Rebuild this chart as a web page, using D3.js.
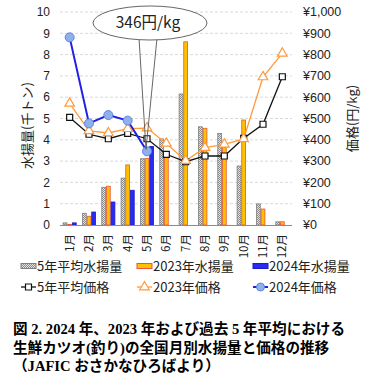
<!DOCTYPE html>
<html>
<head>
<meta charset="utf-8">
<script src="https://cdn.jsdelivr.net/npm/d3@7"></script>
<style>
  body { margin: 0; background: #fff; }
  svg { display: block; }
  text { font-family: "Liberation Sans", Arial, "Noto Sans CJK JP", sans-serif; }
  .jp { font-family: "Noto Sans CJK JP", sans-serif; }
  .caption { font-family: "Liberation Serif", "Noto Sans CJK JP", serif; font-weight: bold; }
</style>
</head>
<body>
<div id="chart"></div>
<script>
const months = ["1月", "2月", "3月", "4月", "5月", "6月", "7月", "8月", "9月", "10月", "11月", "12月"];

// 水揚量 (千トン)
const avgCatch = [0.1, 0.55, 1.77, 2.2, 3.11, 4.04, 6.15, 4.61, 4.3, 2.77, 0.99, 0.15];
const catch2023 = [0.03, 0.41, 1.82, 2.82, 3.13, 3.4, 8.6, 4.54, 3.65, 4.93, 0.75, 0.15];
const catch2024 = [0.1, 0.61, 1.08, 1.63, 3.69];

// 価格 (円/kg)
const avgPrice = [505, 426, 405, 430, 405, 332, 297, 324, 324, 407, 473, 696];
const price2023 = [571, 442, 432, 452, 455, 383, 302, 363, 379, 404, 695, 806];
const price2024 = [881, 477, 516, 490, 346];

const catchTicks = d3.range(0, 11);
const priceTicks = d3.range(0, 1001, 100);

const calloutText = "346円/kg";
const calloutMonth = 4;

const width = 375;
const height = 380;
const plotLeft = 60;
const plotRight = 292;
const plotTop = 12;
const plotBottom = 225;

const svg = d3
  .select("#chart")
  .append("svg")
  .attr("width", width)
  .attr("height", height);

// dotted pattern for 5-year average bars
const defs = svg.append("defs");
const pat = defs
  .append("pattern")
  .attr("id", "dots")
  .attr("width", 2)
  .attr("height", 2)
  .attr("patternUnits", "userSpaceOnUse");
pat.append("rect").attr("width", 2).attr("height", 2).attr("fill", "#e4e4e4");
pat.append("rect").attr("width", 1).attr("height", 1).attr("fill", "#8a8a8a");
pat.append("rect").attr("x", 1).attr("y", 1).attr("width", 1).attr("height", 1).attr("fill", "#8a8a8a");

const x = d3
  .scaleBand()
  .domain(months)
  .range([plotLeft, plotRight])
  .paddingInner(0.28)
  .paddingOuter(0.14);

const xSub = d3
  .scaleBand()
  .domain(["avg", "y2023", "y2024"])
  .range([0, x.bandwidth()]);

const y = d3.scaleLinear().domain([0, 10]).range([plotBottom, plotTop]);
const yPrice = d3.scaleLinear().domain([0, 1000]).range([plotBottom, plotTop]);

const cx = (i) => x(months[i]) + x.bandwidth() / 2;

// gridlines
svg
  .append("g")
  .selectAll("line")
  .data(catchTicks.filter((d) => d > 0))
  .join("line")
  .attr("x1", plotLeft)
  .attr("x2", plotRight)
  .attr("y1", (d) => y(d))
  .attr("y2", (d) => y(d))
  .attr("stroke", "#d9d9d9")
  .attr("stroke-dasharray", "3,2");

// left axis labels
svg
  .append("g")
  .selectAll("text")
  .data(catchTicks)
  .join("text")
  .attr("x", 50)
  .attr("y", (d) => y(d))
  .attr("dy", "0.35em")
  .attr("text-anchor", "end")
  .attr("font-size", 12)
  .attr("fill", "#222")
  .text((d) => d);

// right axis labels
svg
  .append("g")
  .selectAll("text")
  .data(priceTicks)
  .join("text")
  .attr("x", 303)
  .attr("y", (d) => yPrice(d))
  .attr("dy", "0.35em")
  .attr("font-size", 12.5)
  .attr("fill", "#222")
  .text((d) => "¥" + d3.format(",")(d));

// axis titles
svg
  .append("text")
  .attr("class", "jp")
  .attr("transform", `translate(27,${(plotTop + plotBottom) / 2 + 7}) rotate(-90)`)
  .attr("text-anchor", "middle")
  .attr("dy", "0.35em")
  .attr("font-size", 13)
  .attr("fill", "#222")
  .text("水揚量(千トン)");

svg
  .append("text")
  .attr("class", "jp")
  .attr("transform", `translate(352,${(plotTop + plotBottom) / 2}) rotate(-90)`)
  .attr("text-anchor", "middle")
  .attr("dy", "0.35em")
  .attr("font-size", 13)
  .attr("fill", "#222")
  .text("価格(円/kg)");

// bars
const barsG = svg.append("g");
const barSeries = [
  { key: "avg", values: avgCatch, fill: "url(#dots)", stroke: "#7f7f7f" },
  { key: "y2023", values: catch2023, fill: "#ffc000", stroke: "#e8553a" },
  { key: "y2024", values: catch2024, fill: "#2a2af2", stroke: "#1c1cc8" },
];
barSeries.forEach((s) => {
  barsG
    .append("g")
    .selectAll("rect")
    .data(s.values)
    .join("rect")
    .attr("x", (d, i) => x(months[i]) + xSub(s.key) + 0.4)
    .attr("width", xSub.bandwidth() - 0.8)
    .attr("y", (d) => y(d))
    .attr("height", (d) => y(0) - y(d))
    .attr("fill", s.fill)
    .attr("stroke", s.stroke)
    .attr("stroke-width", 0.8);
});

// x axis line
svg
  .append("line")
  .attr("x1", plotLeft)
  .attr("x2", plotRight)
  .attr("y1", plotBottom + 0.5)
  .attr("y2", plotBottom + 0.5)
  .attr("stroke", "#8c8c8c");

// month labels
svg
  .append("g")
  .selectAll("text")
  .data(months)
  .join("text")
  .attr("class", "jp")
  .attr("transform", (d) => `translate(${x(d) + x.bandwidth() / 2},234) rotate(-90)`)
  .attr("text-anchor", "end")
  .attr("dy", "0.35em")
  .attr("font-size", 11.5)
  .attr("fill", "#222")
  .text((d) => d);

// price lines
const line = d3
  .line()
  .x((d, i) => cx(i))
  .y((d) => yPrice(d));

svg
  .append("path")
  .attr("d", line(avgPrice))
  .attr("fill", "none")
  .attr("stroke", "#111")
  .attr("stroke-width", 1.3);

svg
  .append("path")
  .attr("d", line(price2023))
  .attr("fill", "none")
  .attr("stroke", "#ff9a3c")
  .attr("stroke-width", 1.3);

svg
  .append("path")
  .attr("d", line(price2024))
  .attr("fill", "none")
  .attr("stroke", "#1f1fe6")
  .attr("stroke-width", 2);

const square = d3.symbol().type(d3.symbolSquare).size(36);
const triangle = d3.symbol().type(d3.symbolTriangle).size(40);

svg
  .append("g")
  .selectAll("path")
  .data(avgPrice)
  .join("path")
  .attr("transform", (d, i) => `translate(${cx(i)},${yPrice(d)})`)
  .attr("d", square)
  .attr("fill", "#fff")
  .attr("stroke", "#111")
  .attr("stroke-width", 1.2);

svg
  .append("g")
  .selectAll("path")
  .data(price2023)
  .join("path")
  .attr("transform", (d, i) => `translate(${cx(i)},${yPrice(d)})`)
  .attr("d", triangle)
  .attr("fill", "#fff")
  .attr("stroke", "#ff9a3c")
  .attr("stroke-width", 1.2);

svg
  .append("g")
  .selectAll("circle")
  .data(price2024)
  .join("circle")
  .attr("cx", (d, i) => cx(i))
  .attr("cy", (d) => yPrice(d))
  .attr("r", 4.5)
  .attr("fill", "#8eb1ec")
  .attr("stroke", "#5f84e0")
  .attr("stroke-width", 1);

// callout
const tipX = cx(calloutMonth);
const tipY = yPrice(price2024[calloutMonth]);
const calloutG = svg.append("g");
calloutG
  .append("path")
  .attr("d", `M139,38 L${tipX - 1},${tipY - 2} L157,38`)
  .attr("fill", "none")
  .attr("stroke", "#555")
  .attr("stroke-width", 0.9);
calloutG
  .append("ellipse")
  .attr("cx", 150)
  .attr("cy", 23)
  .attr("rx", 57)
  .attr("ry", 17)
  .attr("fill", "#fff")
  .attr("stroke", "#555")
  .attr("stroke-width", 0.9);
calloutG
  .append("text")
  .attr("class", "jp")
  .attr("x", 148)
  .attr("y", 23)
  .attr("dy", "0.35em")
  .attr("text-anchor", "middle")
  .attr("font-size", 15.5)
  .attr("fill", "#222")
  .text(calloutText);

// legend
const legendItems = [
  { label: "5年平均水揚量", type: "bar", fill: "url(#dots)", stroke: "#7f7f7f", x: 21, y: 266 },
  { label: "2023年水揚量", type: "bar", fill: "#ffc000", stroke: "#e8553a", x: 137, y: 266 },
  { label: "2024年水揚量", type: "bar", fill: "#2a2af2", stroke: "#1c1cc8", x: 253, y: 266 },
  { label: "5年平均価格", type: "square", color: "#111", x: 21, y: 287 },
  { label: "2023年価格", type: "triangle", color: "#ff9a3c", x: 137, y: 287 },
  { label: "2024年価格", type: "circle", color: "#1f1fe6", x: 253, y: 287 },
];

const legendG = svg
  .append("g")
  .selectAll("g")
  .data(legendItems)
  .join("g")
  .attr("transform", (d) => `translate(${d.x},${d.y})`);

legendG.each(function (d) {
  const g = d3.select(this);
  if (d.type === "bar") {
    g.append("rect")
      .attr("x", 0)
      .attr("y", -2.5)
      .attr("width", 15)
      .attr("height", 5)
      .attr("fill", d.fill)
      .attr("stroke", d.stroke);
  } else {
    g.append("line")
      .attr("x1", 0)
      .attr("x2", 15)
      .attr("stroke", d.color)
      .attr("stroke-width", d.type === "circle" ? 2 : 1.3);
    if (d.type === "square") {
      g.append("path")
        .attr("transform", "translate(7.5,0)")
        .attr("d", square)
        .attr("fill", "#fff")
        .attr("stroke", d.color)
        .attr("stroke-width", 1.2);
    } else if (d.type === "triangle") {
      g.append("path")
        .attr("transform", "translate(7.5,0)")
        .attr("d", triangle)
        .attr("fill", "#fff")
        .attr("stroke", d.color)
        .attr("stroke-width", 1.2);
    } else {
      g.append("circle")
        .attr("cx", 7.5)
        .attr("r", 4)
        .attr("fill", "#8eb1ec")
        .attr("stroke", "#5f84e0");
    }
  }
  g.append("text")
    .attr("class", "jp")
    .attr("x", 16)
    .attr("dy", "0.35em")
    .attr("font-size", 13)
    .attr("fill", "#222")
    .text(d.label);
});

// caption
const captionLines = [
  "図 2. 2024 年、2023 年および過去 5 年平均における",
  "生鮮カツオ(釣り)の全国月別水揚量と価格の推移",
  "（JAFIC おさかなひろばより）",
];
svg
  .append("g")
  .selectAll("text")
  .data(captionLines)
  .join("text")
  .attr("class", "caption")
  .attr("x", 13)
  .attr("y", (d, i) => 334 + i * 18.5)
  .attr("font-size", 14.6)
  .attr("fill", "#000")
  .text((d) => d);
</script>
</body>
</html>
